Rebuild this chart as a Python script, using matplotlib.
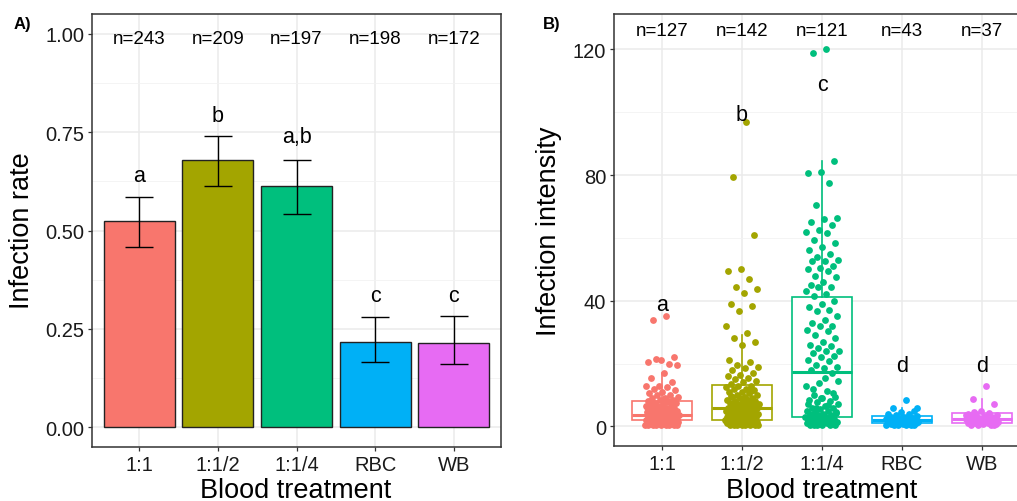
import numpy as np
import matplotlib
matplotlib.use("Agg")
import matplotlib.pyplot as plt

plt.rcParams['font.family'] = ['Liberation Sans', 'DejaVu Sans']

treatments = ['1:1', '1:1/2', '1:1/4', 'RBC', 'WB']
colors = ['#F8766D', '#A3A500', '#00BF7D', '#00B0F6', '#E76BF3']

# panel A: infection rate
rate = [0.523, 0.678, 0.612, 0.216, 0.213]
rate_lo = [0.459, 0.612, 0.543, 0.165, 0.160]
rate_hi = [0.584, 0.739, 0.678, 0.279, 0.282]
n_rate = [243, 209, 197, 198, 172]
letters_rate = ['a', 'b', 'a,b', 'c', 'c']
letters_rate_y = [0.627, 0.777, 0.726, 0.320, 0.320]

# panel B: infection intensity
n_int = [127, 142, 121, 43, 37]
letters_int = ['a', 'b', 'c', 'd', 'd']
letters_int_y = [36.9, 97.4, 107.2, 17.5, 17.5]
box_q1 = [1.9, 1.9, 2.9, 1.0, 1.0]
box_med = [3.7, 6.0, 17.2, 2.0, 2.3]
box_q3 = [8.0, 13.1, 41.1, 3.2, 4.1]
box_lo = [0.3, 0.3, 0.3, 0.3, 0.3]
box_hi = [17.0, 29.0, 84.6, 6.0, 8.6]

int_11 = [35, 33.7, 22, 21, 20.5, 20, 21.5, 19.5, 17, 15.5, 14, 13, 13, 12.5, 12, 11.5, 11,
          10.5, 10, 10, 9.5, 9, 9, 8.5, 8.5, 8, 8, 7.5, 7.5, 7, 7, 7, 6.5, 6.5, 6, 6, 6, 5.5,
          5.5, 5.5, 5, 5, 5, 5, 4.5, 4.5, 4.5, 4, 4, 4, 4, 4, 3.5, 3.5, 3.5, 3.5, 3, 3, 3, 3,
          3, 3, 2.5, 2.5, 2.5, 2.5, 2.5, 2, 2, 2, 2, 2, 2, 2, 1.5, 1.5, 1.5, 1.5, 1.5, 1.5, 1,
          1, 1, 1, 1, 1, 1, 1, 0.5, 0.5, 0.5, 0.5, 0.5, 0.5, 0.5, 0.5, 0.5, 2.8, 3.2, 4.2, 1.8,
          6.2, 7.8, 0.8, 1.2, 2.2]
int_12 = [97, 79.5, 60.8, 50, 49.3, 46.8, 44.2, 43.6, 42.3, 39.1, 38.2, 36.6, 32.1, 29.6, 28,
          27, 25.8, 21, 20.5, 19.5, 19, 18.5, 18, 17, 16.5, 16, 15.5, 15, 14.5, 14, 13.5, 13,
          12.7, 12.5, 12, 12, 11.5, 11, 11, 10.5, 10, 10, 9.5, 9.5, 9, 9, 8.5, 8.5, 8, 8, 8,
          7.5, 7.5, 7, 7, 7, 6.5, 6.5, 6.5, 6, 6, 6, 6, 5.5, 5.5, 5.5, 5, 5, 5, 5, 4.5, 4.5,
          4.5, 4, 4, 4, 4, 3.5, 3.5, 3.5, 3, 3, 3, 3, 3, 2.5, 2.5, 2.5, 2, 2, 2, 2, 2, 1.5,
          1.5, 1.5, 1.5, 1, 1, 1, 1, 1, 1, 0.5, 0.5, 0.5, 0.5, 0.5, 0.5, 0.5, 0.5, 2.2, 2.8,
          3.2, 4.2, 5.2, 6.8, 7.2, 8.2, 9.8, 11.2, 1.2, 1.8, 0.8, 3.8]
int_14 = [120, 118.8, 84.6, 81, 80.8, 77.6, 70.6, 66.2, 66, 65, 64, 62.4, 62, 61.4, 59.2, 58.5,
          57, 56, 55, 54, 53, 52.5, 52.5, 51, 50.3, 50, 49.3, 48, 47.4, 46, 45, 44.5, 44.5, 43,
          42, 41.5, 40, 39, 38, 37, 36.6, 35, 34, 33, 32, 31.8, 30.6, 30.2, 29, 28, 27, 26,
          25.5, 24.8, 24, 23.9, 23.2, 22.3, 22, 21, 20.7, 19.4, 19, 18.5, 18, 16.9, 13.7, 12.7,
          11.1, 10, 9.5, 8.9, 8.5, 8, 7.6, 7, 6.5, 6, 6, 5.5, 5, 5, 4.5, 4.5, 4, 4, 3.5, 3.5,
          3, 3, 3, 2.5, 2.5, 2, 2, 2, 1.5, 1.5, 1.5, 1, 1, 1, 1, 0.5, 0.5, 0.5, 0.5, 0.5, 0.5,
          14.5, 15.5, 12, 10.5, 9, 7.2, 6.8, 5.8, 4.2, 3.2, 2.2, 1.2]
int_rbc = [8.3, 5.7, 4.8, 4.5, 4, 3.8, 3.5, 3.2, 3, 3, 2.8, 2.5, 2.5, 2.3, 2.2, 2, 2, 2, 1.8,
           1.8, 1.5, 1.5, 1.5, 1.3, 1.2, 1, 1, 1, 1, 0.8, 0.8, 0.5, 0.5, 0.5, 0.5, 0.3, 0.3,
           2.7, 1.7, 3.3, 0.7, 6, 2.1]
int_wb = [12.7, 8.6, 7, 4.8, 3.8, 4.2, 4, 3.5, 3.3, 3, 3, 2.8, 2.5, 2.5, 2.3, 2.2, 2, 2, 1.8,
          1.8, 1.5, 1.5, 1.5, 1.3, 1.2, 1, 1, 1, 0.8, 0.8, 0.5, 0.5, 0.5, 3.7, 2.7, 4.5, 0.3]
intensity = [int_11, int_12, int_14, int_rbc, int_wb]

W, H = 1017, 502
fig = plt.figure(figsize=(W / 100, H / 100), dpi=100)

TICK_FS = 14.5
N_FS = 13.5
LET_FS = 15.5
TITLE_FS = 19.5


def px_axes(l, r, t, b):
    return [l / W, (H - b) / H, (r - l) / W, (b - t) / H]


def style(ax, ymajor, yminor):
    ax.set_facecolor('white')
    ax.set_yticks(ymajor)
    ax.set_yticks(yminor, minor=True)
    ax.grid(True, which='major', color='#EBEBEB', lw=1.1, zorder=0)
    ax.grid(True, which='minor', axis='y', color='#F2F2F2', lw=0.6, zorder=0)
    ax.set_axisbelow(True)
    for s in ax.spines.values():
        s.set_color('#333333')
        s.set_linewidth(1.1)
    ax.tick_params(which='major', length=3, width=0.9, color='#333333',
                   labelsize=TICK_FS, labelcolor='#1a1a1a', pad=2.5)
    ax.tick_params(which='minor', length=0)


def set_x(ax):
    ax.set_xticks(range(1, 6))
    ax.set_xticklabels(treatments)
    ax.set_xlim(0.4, 5.6)


x = np.arange(1, 6)

# ---- panel A
axA = fig.add_axes(px_axes(92, 501, 15, 448))
style(axA, [0, 0.25, 0.5, 0.75, 1.0], [0.125, 0.375, 0.625, 0.875])
axA.set_yticklabels(['0.00', '0.25', '0.50', '0.75', '1.00'])
axA.set_ylim(-0.05, 1.05)
axA.bar(x, rate, width=0.9, color=colors, edgecolor='#222222', lw=1.0, zorder=2)
err = [np.array(rate) - np.array(rate_lo), np.array(rate_hi) - np.array(rate)]
axA.errorbar(x, rate, yerr=err, fmt='none', ecolor='black', elinewidth=1.0,
             capsize=10, capthick=1.0, zorder=3)
set_x(axA)
for xi, n in zip(x, n_rate):
    axA.text(xi, 0.977, f'n={n}', ha='center', va='baseline', fontsize=N_FS)
for xi, lab, yl in zip(x, letters_rate, letters_rate_y):
    axA.text(xi, yl, lab, ha='center', va='baseline', fontsize=LET_FS)

# ---- panel B
axB = fig.add_axes(px_axes(614, 1030, 15, 447))
style(axB, [0, 40, 80, 120], [20, 60, 100])
axB.set_ylim(-6.25, 131.25)
stats = []
for i in range(5):
    stats.append(dict(med=box_med[i], q1=box_q1[i], q3=box_q3[i],
                      whislo=box_lo[i], whishi=box_hi[i], fliers=[]))
bp = axB.bxp(stats, positions=x, widths=0.75, showfliers=False, showcaps=False,
             patch_artist=True, manage_ticks=False, zorder=2)
for i in range(5):
    bp['boxes'][i].set(facecolor='white', edgecolor=colors[i], lw=1.2)
    bp['medians'][i].set(color=colors[i], lw=2.2)
    for w in bp['whiskers'][2 * i:2 * i + 2]:
        w.set(color=colors[i], lw=1.2)
for i, vals in enumerate(intensity):
    k = np.arange(len(vals)) + 1
    offs = ((k * 0.6180339887) % 1 - 0.5) * 0.42
    axB.scatter(x[i] + offs, vals, s=24, color=colors[i], lw=0, zorder=3)
set_x(axB)
for xi, n in zip(x, n_int):
    axB.text(xi, 124.5, f'n={n}', ha='center', va='baseline', fontsize=N_FS)
for xi, lab, yl in zip(x, letters_int, letters_int_y):
    axB.text(xi, yl, lab, ha='center', va='baseline', fontsize=LET_FS)

# labels
fig.text(22 / W, 1 - 231 / H, 'Infection rate', rotation=90, ha='center', va='center',
         fontsize=TITLE_FS)
fig.text(549 / W, 1 - 231 / H, 'Infection intensity', rotation=90, ha='center',
         va='center', fontsize=TITLE_FS)
fig.text(296 / W, 1 - 498 / H, 'Blood treatment', ha='center', va='baseline',
         fontsize=TITLE_FS)
fig.text(822 / W, 1 - 498 / H, 'Blood treatment', ha='center', va='baseline',
         fontsize=TITLE_FS)
fig.text(22 / W, 1 - 24 / H, 'A)', ha='center', va='center', fontsize=12,
         fontweight='bold')
fig.text(552 / W, 1 - 24 / H, 'B)', ha='center', va='center', fontsize=12,
         fontweight='bold')

fig.savefig('out.png', dpi=100, facecolor='white')
